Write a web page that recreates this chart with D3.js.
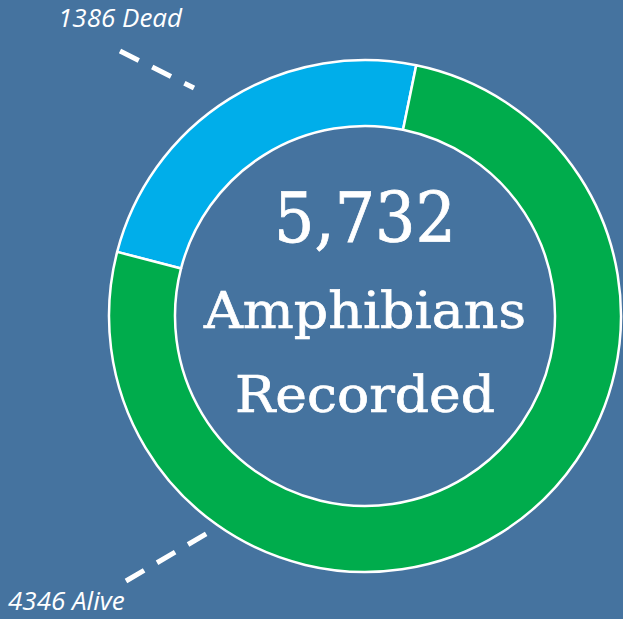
<!DOCTYPE html>
<html>
<head>
<meta charset="utf-8">
<script src="https://cdn.jsdelivr.net/npm/d3@7"></script>
<style>
  html, body { margin: 0; padding: 0; background: #45739f; overflow: hidden; }
  svg { display: block; }
</style>
</head>
<body>
<svg width="623" height="619"></svg>
<script>
// data
var categories = ["Dead", "Alive"];
var counts = [1386, 4346];
var sliceColors = ["#00aeea", "#00ac4c"];
var totalLabel = "5,732";
var centerLines = ["Amphibians", "Recorded"];

const svg = d3.select("svg");
const width = 623;
const height = 619;
const cx = 365, cy = 316;
const outerR = 256, innerR = 190;

// dead slice starts a bit left of 9 o'clock-ish
const startDeg = -75.5;

const pie = d3.pie()
    .sort(null)
    .startAngle(startDeg * Math.PI / 180)
    .endAngle((startDeg + 360) * Math.PI / 180);

const arc = d3.arc().innerRadius(innerR).outerRadius(outerR);

const arcs = pie(counts);

const g = svg.append("g").attr("transform", "translate(" + cx + "," + cy + ")");

g.selectAll("path")
    .data(arcs)
    .enter().append("path")
    .attr("d", arc)
    .attr("fill", (d, i) => sliceColors[i])
    .attr("stroke", "#fff")
    .attr("stroke-width", 2.5)
    .attr("stroke-linejoin", "round");

// center text
g.append("text")
    .attr("x", 0)
    .attr("y", -74)
    .attr("text-anchor", "middle")
    .attr("fill", "#fff")
    .attr("stroke", "#fff")
    .attr("stroke-width", 0.8)
    .attr("font-family", "DejaVu Serif")
    .attr("font-size", 70)
    .attr("textLength", 182)
    .attr("lengthAdjust", "spacingAndGlyphs")
    .text(totalLabel);

g.selectAll("text.line")
    .data(centerLines)
    .enter().append("text")
    .attr("class", "line")
    .attr("x", 0)
    .attr("y", (d, i) => 12 + i * 84)
    .attr("text-anchor", "middle")
    .attr("fill", "#fff")
    .attr("stroke", "#fff")
    .attr("stroke-width", 0.7)
    .attr("font-family", "DejaVu Serif")
    .attr("font-size", 50)
    .attr("textLength", (d, i) => i === 0 ? 322 : 260)
    .attr("lengthAdjust", "spacingAndGlyphs")
    .text(d => d);

// leader lines + labels
const labelInfo = [
    {text: counts[0] + " " + categories[0], x: 58, y: 27, line: [[120, 51], [194, 88]]},
    {text: counts[1] + " " + categories[1], x: 8, y: 610, line: [[126, 581], [211, 531]]}
];

svg.selectAll("line.leader")
    .data(labelInfo)
    .enter().append("line")
    .attr("class", "leader")
    .attr("x1", d => d.line[0][0])
    .attr("y1", d => d.line[0][1])
    .attr("x2", d => d.line[1][0])
    .attr("y2", d => d.line[1][1])
    .attr("stroke", "#fff")
    .attr("stroke-width", 5)
    .attr("stroke-dasharray", "21,15");

svg.selectAll("text.lbl")
    .data(labelInfo)
    .enter().append("text")
    .attr("class", "lbl")
    .attr("x", d => d.x)
    .attr("y", d => d.y)
    .attr("fill", "#fff")
    .attr("font-family", "Open Sans")
    .attr("font-style", "italic")
    .attr("font-size", 26)
    .text(d => d.text);
</script>
</body>
</html>
